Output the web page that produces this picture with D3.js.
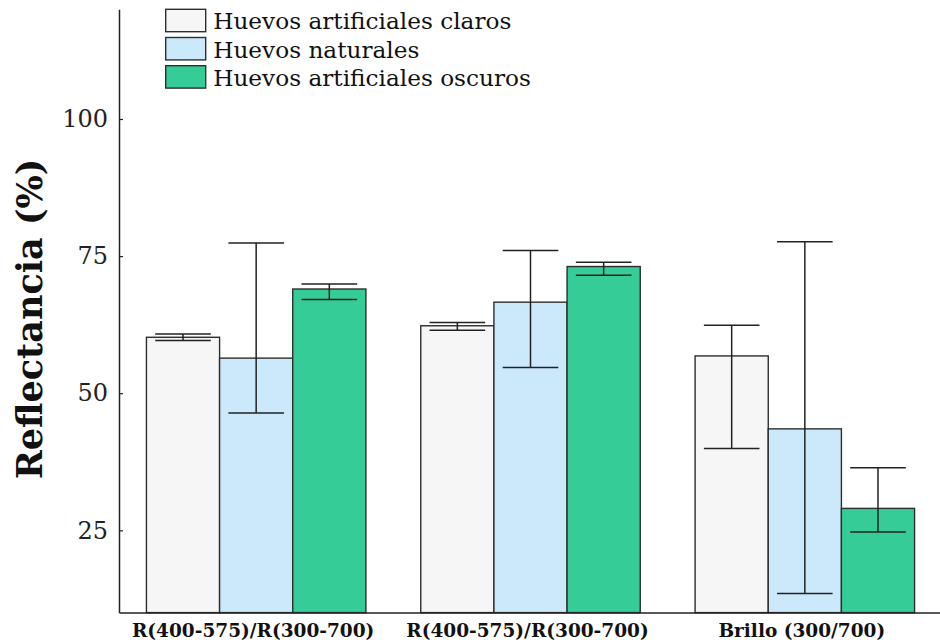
<!DOCTYPE html>
<html>
<head>
<meta charset="utf-8">
<script src="https://cdn.jsdelivr.net/npm/d3@7/dist/d3.min.js"></script>
<style>
  body { margin: 0; background: #fff; }
  svg { display: block; }
</style>
</head>
<body>
<svg id="chart" width="940" height="643"></svg>
<script>
// ---- data ----
const categories = ["R(400-575)/R(300-700)", "R(400-575)/R(300-700) ", "Brillo (300/700)"];
const categoryLabels = ["R(400-575)/R(300-700)", "R(400-575)/R(300-700)", "Brillo (300/700)"];
const seriesNames = ["Huevos artificiales claros", "Huevos naturales", "Huevos artificiales oscuros"];
const claros = [60.2, 62.3, 56.8];
const clarosLow = [59.6, 61.5, 39.9];
const clarosHigh = [60.8, 62.9, 62.4];
const naturales = [56.4, 66.6, 43.5];
const naturalesLow = [46.4, 54.7, 13.5];
const naturalesHigh = [77.4, 76.0, 77.6];
const oscuros = [69.0, 73.1, 29.0];
const oscurosLow = [67.1, 71.5, 24.7];
const oscurosHigh = [69.9, 73.9, 36.4];
const yTicks = [25, 50, 75, 100];
const yDomain = [10, 120];
const colors = ["#f6f6f6", "#cbe9fb", "#35cc97"];

const seriesValues = [claros, naturales, oscuros];
const seriesLow = [clarosLow, naturalesLow, oscurosLow];
const seriesHigh = [clarosHigh, naturalesHigh, oscurosHigh];

// ---- layout ----
const svg = d3.select("#chart");
const mLeft = 119, mRight = 942, mTop = 9.3, mBottom = 612.6;

const x0 = d3.scaleBand().domain(categories).range([mLeft, mRight]).paddingInner(0.2).paddingOuter(0.1);
const x1 = d3.scaleBand().domain(seriesNames).range([0, x0.bandwidth()]);
const y = d3.scaleLinear().domain(yDomain).range([mBottom, mTop]);

const rows = [];
categories.forEach((c, i) => {
  seriesNames.forEach((s, j) => {
    rows.push({cat: c, ser: s, j: j, v: seriesValues[j][i], lo: seriesLow[j][i], hi: seriesHigh[j][i]});
  });
});

// bars
svg.append("g").selectAll("rect").data(rows).join("rect")
  .attr("x", d => x0(d.cat) + x1(d.ser))
  .attr("y", d => y(d.v))
  .attr("width", x1.bandwidth())
  .attr("height", d => y(yDomain[0]) - y(d.v))
  .attr("fill", d => colors[d.j])
  .attr("stroke", "#2e2e2e")
  .attr("stroke-width", 1.4);

// error bars
const capW = x1.bandwidth() * 0.76;
const eb = svg.append("g").attr("stroke", "#222").attr("stroke-width", 1.5);
rows.forEach(d => {
  const cx = x0(d.cat) + x1(d.ser) + x1.bandwidth() / 2;
  eb.append("line").attr("x1", cx).attr("x2", cx).attr("y1", y(d.lo)).attr("y2", y(d.hi));
  eb.append("line").attr("x1", cx - capW / 2).attr("x2", cx + capW / 2).attr("y1", y(d.lo)).attr("y2", y(d.lo));
  eb.append("line").attr("x1", cx - capW / 2).attr("x2", cx + capW / 2).attr("y1", y(d.hi)).attr("y2", y(d.hi));
});

// y axis
const yAxis = svg.append("g").attr("transform", `translate(${mLeft},0)`)
  .call(d3.axisLeft(y).tickValues(yTicks).tickSizeInner(-4).tickSizeOuter(0).tickPadding(11));
yAxis.select(".domain").attr("stroke", "#222").attr("stroke-width", 1.5);
yAxis.selectAll(".tick line").attr("stroke", "#222").attr("stroke-width", 1.2);
yAxis.selectAll(".tick text")
  .attr("font-family", "'DejaVu Serif', serif")
  .attr("font-size", 24)
  .attr("fill", "#222");

// x axis line
const xAxis = svg.append("g").attr("transform", `translate(0,${mBottom})`)
  .call(d3.axisBottom(x0).tickSize(0).tickFormat(""));
xAxis.select(".domain").attr("stroke", "#222").attr("stroke-width", 1.5);

// x labels
svg.append("g").selectAll("text").data(categories).join("text")
  .attr("x", d => x0(d) + x0.bandwidth() / 2 - 3)
  .attr("y", 637)
  .attr("text-anchor", "middle")
  .attr("font-family", "'DejaVu Serif', serif")
  .attr("font-weight", "bold")
  .attr("font-size", 18.5)
  .attr("fill", "#111")
  .text((d, i) => categoryLabels[i]);

// y title
svg.append("text")
  .attr("transform", "translate(41.5,319) rotate(-90)")
  .attr("text-anchor", "middle")
  .attr("font-family", "'DejaVu Serif', serif")
  .attr("font-weight", "bold")
  .attr("font-size", 35)
  .attr("fill", "#111")
  .text("Reflectancia (%)");

// legend
const lg = svg.append("g").attr("transform", "translate(165.7,9.3)");
seriesNames.forEach((s, j) => {
  const g = lg.append("g").attr("transform", `translate(0,${j * 28.2})`);
  g.append("rect").attr("width", 40).attr("height", 22.4)
    .attr("fill", colors[j]).attr("stroke", "#2e2e2e").attr("stroke-width", 1.4);
  g.append("text").attr("x", 47.5).attr("y", 20)
    .attr("font-family", "'DejaVu Serif', serif")
    .attr("font-size", 23.2)
    .attr("fill", "#111")
    .text(s);
});
</script>
</body>
</html>
